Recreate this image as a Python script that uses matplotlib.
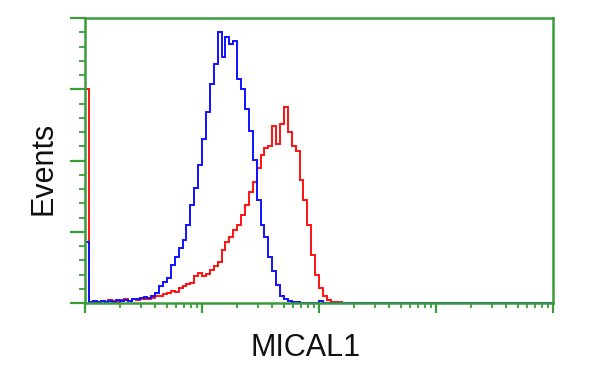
import numpy as np
import matplotlib
matplotlib.use("Agg")
import matplotlib.pyplot as plt
from matplotlib.ticker import LogLocator, MultipleLocator, NullFormatter

plt.rcParams['font.family'] = ['Liberation Sans', 'DejaVu Sans']

# Histogram channels: 120 log-spaced bins over 4 decades (10^0 .. 10^4)
n_bins = 120
x_min_decade, x_max_decade = 0, 4

# Counts per bin (arbitrary units, axis spans 0..4)
control_counts = [
    0.85, 0.01, 0.03, 0.01, 0.03, 0.02, 0.03, 0.01, 0.04, 0.03,
    0.04, 0.03, 0.06, 0.06, 0.07, 0.08, 0.07, 0.10, 0.14, 0.24,
    0.30, 0.35, 0.54, 0.65, 0.77, 0.89, 1.10, 1.38, 1.62, 1.94,
    2.30, 2.68, 3.07, 3.35, 3.80, 3.45, 3.73, 3.63, 3.68, 3.15,
    3.00, 2.72, 2.41, 2.01, 1.45, 1.10, 0.92, 0.65, 0.45, 0.25,
    0.10, 0.06, 0.03, 0.01, 0.01, 0.00, 0.00, 0.00, 0.00, 0.00,
    0.03, 0.00, 0.00, 0.00, 0.00, 0.00, 0.00, 0.00, 0.00, 0.00,
] + [0.0] * 50

mical1_counts = [
    3.00, 0.02, 0.01, 0.02, 0.03, 0.02, 0.04, 0.03, 0.02, 0.04,
    0.05, 0.03, 0.06, 0.04, 0.05, 0.06, 0.05, 0.07, 0.10, 0.10,
    0.13, 0.14, 0.17, 0.15, 0.21, 0.24, 0.27, 0.28, 0.38, 0.42,
    0.38, 0.41, 0.46, 0.52, 0.58, 0.75, 0.85, 0.92, 1.03, 1.10,
    1.23, 1.38, 1.56, 1.70, 1.90, 2.08, 2.17, 2.20, 2.48, 2.23,
    2.51, 2.75, 2.40, 2.20, 2.13, 1.73, 1.45, 1.10, 0.68, 0.39,
    0.21, 0.10, 0.04, 0.02, 0.02, 0.01, 0.00, 0.00, 0.00, 0.00,
] + [0.0] * 50

x_label = "MICAL1"
y_label = "Events"

green = "#3a9c3a"

fig = plt.figure(figsize=(6, 3.75), dpi=100)
ax = fig.add_axes([85/600, 1 - 303/375, (553-85)/600, (303-18)/375])

edges = np.logspace(x_min_decade, x_max_decade, n_bins + 1)
ax.stairs(mical1_counts, edges, color="#ff1010", linewidth=1.4, baseline=0)
ax.stairs(control_counts, edges, color="#1010ff", linewidth=1.4, baseline=0)

ax.set_xscale("log")
ax.set_xlim(10**x_min_decade, 10**x_max_decade)
ax.set_ylim(0, 4.0)

ax.xaxis.set_major_locator(LogLocator(base=10, numticks=10))
ax.xaxis.set_minor_locator(LogLocator(base=10, subs=np.arange(2, 10), numticks=100))
ax.xaxis.set_major_formatter(NullFormatter())
ax.xaxis.set_minor_formatter(NullFormatter())
ax.yaxis.set_major_locator(MultipleLocator(1))
ax.yaxis.set_minor_locator(MultipleLocator(0.2))
ax.yaxis.set_major_formatter(NullFormatter())

for s in ax.spines.values():
    s.set_color(green)
    s.set_linewidth(1.8)

ax.tick_params(axis="x", which="major", direction="out", length=7.5, width=1.6, color=green)
ax.tick_params(axis="x", which="minor", direction="out", length=3.8, width=1.3, color=green)
ax.tick_params(axis="y", which="major", direction="out", length=10.5, width=1.6, color=green)
ax.tick_params(axis="y", which="minor", direction="out", length=4.3, width=1.3, color=green)

fig.text(306/600, 1 - 356/375, x_label, fontsize=22, ha="center", va="baseline", color="#111111")
fig.text(43/600, 1 - 168/375, y_label, fontsize=22, ha="center", va="center", rotation=90, color="#111111")

fig.savefig("out.png", dpi=100, facecolor="white")
